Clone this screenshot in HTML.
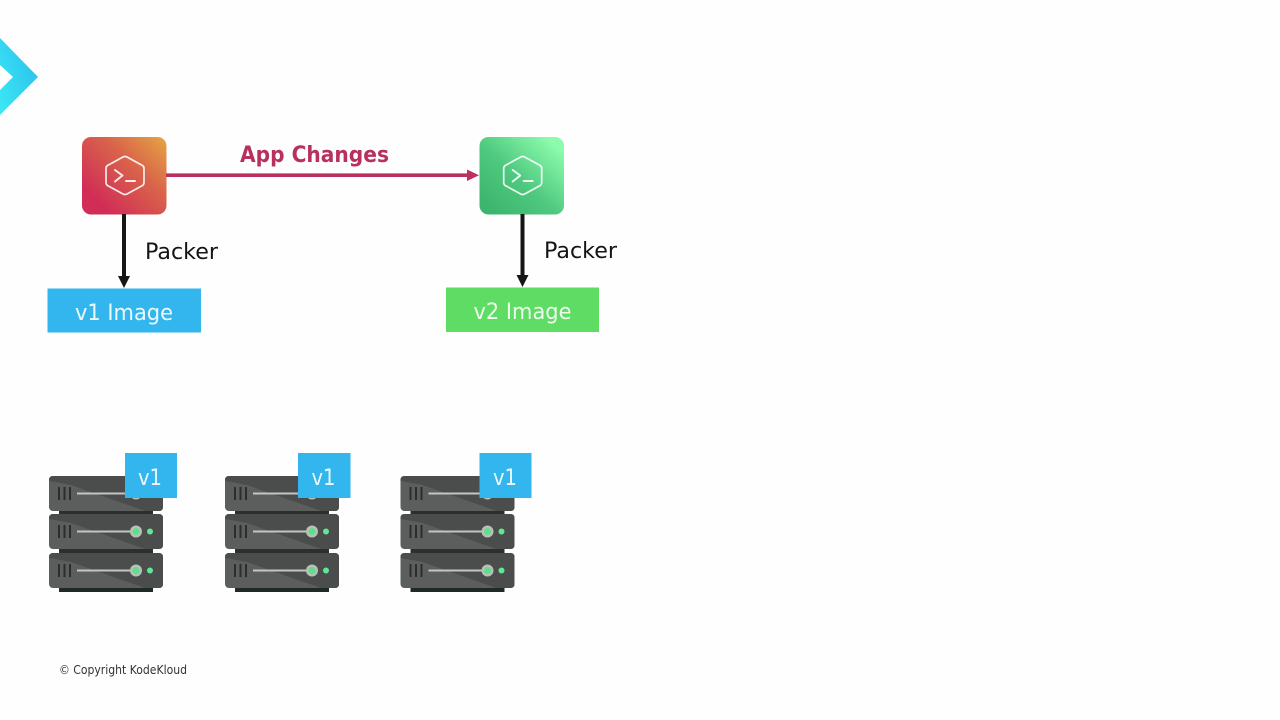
<!DOCTYPE html>
<html><head><meta charset="utf-8"><style>
html,body{margin:0;padding:0;background:#fefefe;width:1280px;height:720px;overflow:hidden}
svg{display:block}
text{font-family:"DejaVu Sans","Liberation Sans",sans-serif}
</style></head><body>
<svg width="1280" height="720" viewBox="0 0 1280 720" xmlns="http://www.w3.org/2000/svg">
<defs>
<linearGradient id="chev" x1="0" y1="1" x2="1" y2="0.3"><stop offset="0" stop-color="#3ce8f4"/><stop offset="1" stop-color="#2cc2ee"/></linearGradient>
<linearGradient id="red" x1="0.15" y1="0.8" x2="1" y2="0"><stop offset="0" stop-color="#d12d56"/><stop offset="0.55" stop-color="#d9654a"/><stop offset="1" stop-color="#e6a544"/></linearGradient>
<linearGradient id="green" x1="0.1" y1="0.9" x2="0.9" y2="0.1"><stop offset="0" stop-color="#3eb56e"/><stop offset="0.45" stop-color="#4fc97f"/><stop offset="1" stop-color="#8cfbac"/></linearGradient>
<g id="unit">
<rect x="0" y="0" width="114" height="35" rx="4" fill="#5c5e5d"/>
<path d="M4,0 H110 Q114,0 114,4 V31 Q114,35 110,35 H96 L22,9 L0,5 V4 Q0,0 4,0 Z" fill="#4b4d4c"/>
<g fill="#2b2e2d"><rect x="9" y="11" width="2" height="13"/><rect x="14.500" y="11" width="2" height="13"/><rect x="20" y="11" width="2" height="13"/></g>
<rect x="28" y="16.500" width="54" height="2" fill="#c4c5c2"/>
<circle cx="87" cy="17.500" r="6" fill="#b9bfb7"/><circle cx="87" cy="17.500" r="3.400" fill="#58e08a"/>
<circle cx="101" cy="17.500" r="3" fill="#5fe893"/>
</g>
<g id="server">
<rect x="10" y="30" width="94" height="86" fill="#2b302e"/>
<rect x="10" y="108" width="94" height="8" rx="2" fill="#1f2a27"/>
<use href="#unit" y="0"/><use href="#unit" y="38"/><use href="#unit" y="77"/>
</g>
<g id="hex" fill="none" stroke="#fff" stroke-opacity=".88" stroke-width="1.700" stroke-linejoin="round" stroke-linecap="round">
<path d="M-2,-18.500 Q0,-19.500 2,-18.500 L17.500,-10 Q19,-9 19,-7 V7 Q19,9 17.500,10 L2,18.500 Q0,19.500 -2,18.500 L-17.500,10 Q-19,9 -19,7 V-7 Q-19,-9 -17.500,-10 Z"/>
<path d="M-10,-5.500 L-2.500,0 L-10,6" stroke-width="2"/>
<path d="M1,5.500 H10" stroke-width="2"/>
</g>
</defs>

<polygon points="0,38 38,77 0,115 0,90 13,77 0,65" fill="url(#chev)"/>

<rect x="82" y="137" width="84.500" height="77.500" rx="9" fill="url(#red)"/>
<use href="#hex" x="125" y="175.500"/>
<rect x="479.500" y="137" width="84.500" height="77.500" rx="9" fill="url(#green)"/>
<use href="#hex" x="522.700" y="175.500"/>

<rect x="166" y="173.400" width="303" height="3.600" fill="#bc2f5f"/>
<polygon points="467,169.500 479,175.200 467,181" fill="#bc2f5f"/>
<text x="240" y="162" font-size="22.500" font-weight="700" fill="#b8305f" textLength="149" lengthAdjust="spacingAndGlyphs">App Changes</text>

<rect x="122" y="214" width="4" height="64" fill="#161616"/>
<polygon points="118,276 130,276 124,288" fill="#161616"/>
<rect x="520.500" y="214" width="4" height="63" fill="#161616"/>
<polygon points="516.500,275 528.500,275 522.500,287" fill="#161616"/>

<text x="145" y="259" font-size="22" fill="#151515" textLength="73" lengthAdjust="spacingAndGlyphs">Packer</text>
<text x="544" y="258" font-size="22" fill="#151515" textLength="73" lengthAdjust="spacingAndGlyphs">Packer</text>

<rect x="47.500" y="288.500" width="153.500" height="44" fill="#33b6ee"/>
<text x="75" y="320" font-size="22" fill="#ecf8fd" textLength="98" lengthAdjust="spacingAndGlyphs">v1 Image</text>
<rect x="446" y="287.500" width="153" height="44.500" fill="#5fdc64"/>
<text x="473.500" y="319" font-size="22" fill="#ecfbec" textLength="98" lengthAdjust="spacingAndGlyphs">v2 Image</text>

<use href="#server" x="49" y="476"/>
<use href="#server" x="225" y="476"/>
<use href="#server" x="400.500" y="476"/>

<rect x="125" y="453" width="52" height="45" fill="#33b6ee"/>
<text x="138" y="485" font-size="22" fill="#ecf8fd" textLength="24" lengthAdjust="spacingAndGlyphs">v1</text>
<rect x="298" y="453" width="52.500" height="45" fill="#33b6ee"/>
<text x="311.500" y="485" font-size="22" fill="#ecf8fd" textLength="24" lengthAdjust="spacingAndGlyphs">v1</text>
<rect x="479.500" y="453" width="52" height="45" fill="#33b6ee"/>
<text x="493" y="485" font-size="22" fill="#ecf8fd" textLength="24" lengthAdjust="spacingAndGlyphs">v1</text>

<text x="59" y="674" font-size="12" fill="#333" textLength="128" lengthAdjust="spacingAndGlyphs">© Copyright KodeKloud</text>
</svg>
</body></html>
